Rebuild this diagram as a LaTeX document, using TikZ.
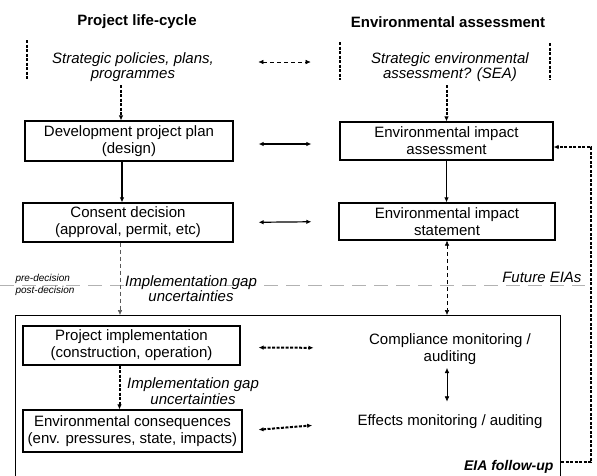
\documentclass[tikz,border=0pt]{standalone}
\usepackage{fontspec}
\setmainfont{Liberation Sans}
\usetikzlibrary{arrows.meta, positioning}

\tikzset{
  box/.style={draw, line width=1.2pt, align=center, inner sep=2pt},
  plain/.style={align=center},
  bigdash/.style={line width=2pt, dash pattern=on 3pt off 1.5pt},
  thindash/.style={line width=0.5pt, dash pattern=on 4pt off 3pt},
  solidarrow/.style={line width=1.2pt},
}

\begin{document}
\begin{tikzpicture}[x=1pt, y=-1pt, >={Latex[length=5pt,width=4.5pt]},
    every node/.style={font=\fontsize{15}{17}\selectfont}]
        \useasboundingbox (0,0) rectangle (597,475);
        \clip (0,0) rectangle (597,475);

        % column titles
        \node[font=\fontsize{15}{17}\selectfont\bfseries] (titleL) at (137, 22) {Project life-cycle};
        \node[font=\fontsize{15}{17}\selectfont\bfseries] (titleR) at (448, 22) {Environmental assessment};

        % strategic level
        \node[plain, font=\fontsize{15}{15}\selectfont\itshape] (spp) at (133, 67) {Strategic policies, plans,\\programmes};
        \node[plain, font=\fontsize{15}{15}\selectfont\itshape] (sea) at (450, 67) {Strategic environmental\\assessment? (SEA)};
        \draw[bigdash] (27, 40) -- (27, 80);
        \draw[bigdash] (340, 42) -- (340, 80);
        \draw[bigdash] (550, 43) -- (550, 80);

        % boxes
        \node[box, minimum width=208, minimum height=40] (dev) at (129, 141) {Development project plan\\(design)};
        \node[box, minimum width=213, minimum height=38] (eia) at (446.5, 141) {Environmental impact\\assessment};
        \node[box, minimum width=210, minimum height=39] (cons) at (128, 222.5) {Consent decision\\(approval, permit, etc)};
        \node[box, minimum width=216, minimum height=37] (eis) at (447, 221.5) {Environmental impact\\statement};

        % follow-up frame
        \node[draw, line width=1.2pt, minimum width=545, minimum height=190, anchor=north west] (followup) at (15, 315) {};
        \node[box, minimum width=217, minimum height=39] (pi) at (131.5, 345.5) {Project implementation\\(construction, operation)};
        \node[box, minimum width=219, minimum height=42] (ec) at (132.5, 431) {Environmental consequences\\(env. pressures, state, impacts)};
        \node[plain] (comp) at (450, 349) {Compliance monitoring /\\auditing};
        \node[plain] (eff) at (450, 422) {Effects monitoring / auditing};
        \node[anchor=base east, font=\fontsize{14}{16}\selectfont\bfseries\itshape] (fulabel) at (557, 470) {EIA follow-up};

        % decision line
        \draw[gray!60, line width=0.6pt, dash pattern=on 14pt off 8pt] (0, 285) -- (585, 285);
        \node[anchor=west, font=\fontsize{10}{12}\selectfont\itshape] (pre) at (12, 279) {pre-decision};
        \node[anchor=west, font=\fontsize{10}{12}\selectfont\itshape] (post) at (12, 291) {post-decision};
        \node[anchor=east, font=\fontsize{15}{17}\selectfont\itshape] (future) at (585, 277) {Future EIAs};
        \node[plain, font=\fontsize{15}{15}\selectfont\itshape] (gap1) at (191, 289) {Implementation gap\\uncertainties};
        \node[plain, font=\fontsize{15}{16}\selectfont\itshape] (gap2) at (193, 391) {Implementation gap\\uncertainties};

        % vertical connectors
        \draw[bigdash, ->] ([xshift=-8pt]dev.north |- spp.south) -- ([xshift=-8pt]dev.north);
        \draw[bigdash, ->] (sea.south -| eia.north) -- (eia.north);
        \draw[solidarrow, ->] ([xshift=-7pt]dev.south) -- ([xshift=-7pt]dev.south |- cons.north);
        \draw[solidarrow, ->] (eia.south) -- (eia.south |- eis.north);
        \draw[thindash, gray!70!black, ->] ([xshift=-8pt]cons.south) -- ([xshift=-8pt]cons.south |- followup.north);
        \draw[thindash, <->] (eis.south) -- (eis.south |- followup.north);
        \draw[bigdash, ->] ([xshift=-12pt]pi.south) -- ([xshift=-12pt]pi.south |- ec.north);
        \draw[line width=0.5pt, <->, shorten >=10pt] ([xshift=-3pt]comp.south) -- ([xshift=-3pt]comp.south |- eff.north);

        % horizontal connectors
        \draw[thindash, <->, shorten <=41pt, shorten >=57pt] ([yshift=5pt]spp.east) -- ([yshift=5pt]sea.west);
        \draw[solidarrow, <->, shorten <=25pt, shorten >=28pt] ([yshift=-3pt]dev.east) -- ([yshift=-3pt]eia.west);
        \draw[solidarrow, <->, shorten <=25pt, shorten >=27pt] (cons.east) -- (eis.west);
        \draw[bigdash, <->, shorten <=18pt, shorten >=52pt] ([yshift=-2pt]pi.east) -- ([yshift=1pt]comp.west);
        \draw[bigdash, <->, shorten <=16pt, shorten >=42pt] (ec.east) -- (eff.west);

        % feedback to future EIAs
        \draw[bigdash, ->] ([yshift=-147pt]followup.north east) -- ++(30, 0) |- ([yshift=-6pt]eia.east);
    \end{tikzpicture}
\end{document}
